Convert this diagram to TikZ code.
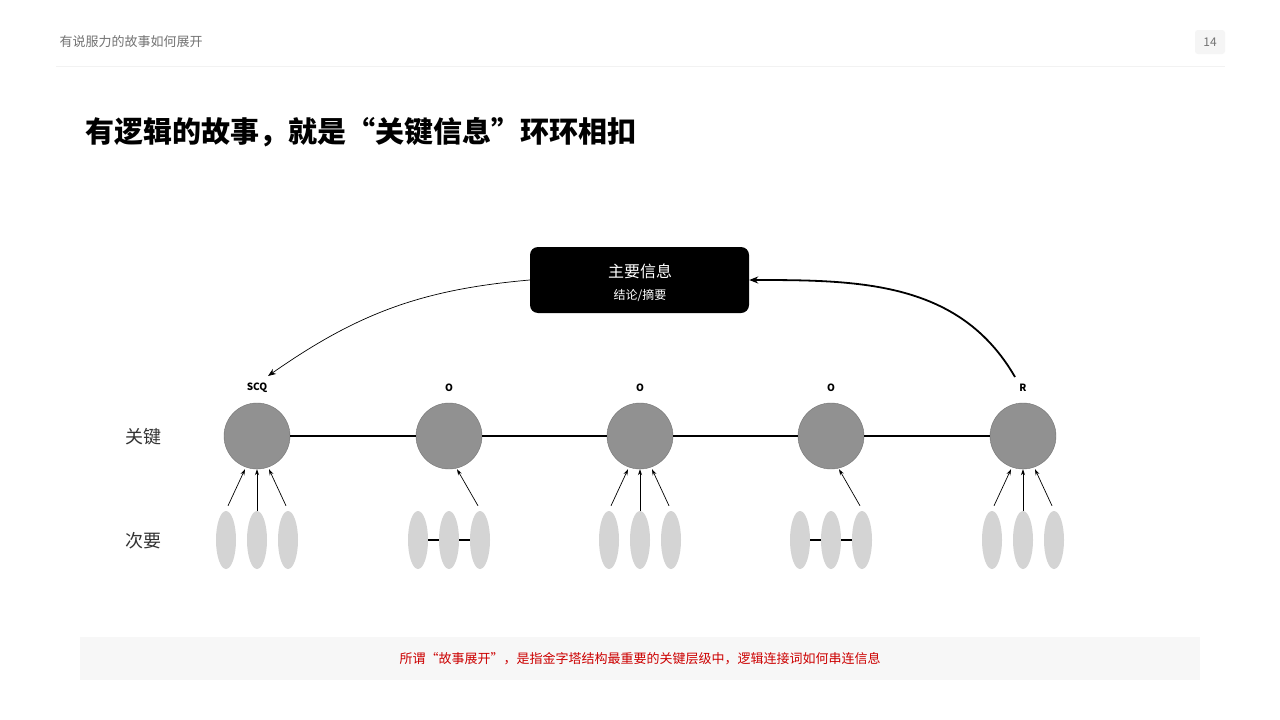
\documentclass[tikz,border=0pt]{standalone}
\usepackage{fontspec}
\setmainfont{Noto Sans CJK SC}
\newfontfamily\cjk{Noto Sans CJK SC}
\usetikzlibrary{arrows.meta,shapes.geometric}
\begin{document}
\begin{tikzpicture}[x=1pt,y=-1pt,
  key/.style={circle,draw=gray!90!black,fill=black!43,minimum size=66pt,inner sep=0pt},
  minor/.style={ellipse,fill=black!17,minimum width=20pt,minimum height=58pt,inner sep=0pt},
  lab/.style={font=\fontsize{10}{12}\selectfont\bfseries},
  arr/.style={-{Stealth[length=6pt,width=4pt]},line width=0.7pt}]
\useasboundingbox (0,0) rectangle (1280,720);
\fill[white] (0,0) rectangle (1280,720);
\node[anchor=west,text=black!55,font=\fontsize{13}{15}\selectfont] (hdr) at (56,42) {有说服力的故事如何展开};
\node[fill=black!4,rounded corners=3pt,minimum width=30pt,minimum height=24pt,text=black!55,font=\fontsize{12}{14}\selectfont] (pg) at (1210,42) {14};
\draw[black!5,line width=0.8pt] (56,66) -- (1225,66);
\node[anchor=west,font=\fontsize{29}{34}\selectfont\bfseries] (title) at (82,132) {有逻辑的故事，就是“关键信息”环环相扣};
\node[fill=black,rounded corners=8pt,minimum width=219pt,minimum height=66pt] (main) at (639.5,280) {};
\node[text=white,font=\fontsize{16}{18}\selectfont] (mt) at (640,271) {主要信息};
\node[text=white,font=\fontsize{12}{14}\selectfont] (ms) at (640,295) {结论/摘要};
\foreach \n/\x/\t in {a/257/SCQ,b/449/O,c/640/O,d/831/O,e/1023/R}{
  \node[key] (\n) at (\x,436) {};
  \node[lab] (\n l) at (\x,388) {\t};
  \node[minor] (\n1) at (\x-31,540) {};
  \node[minor] (\n2) at (\x,540) {};
  \node[minor] (\n3) at (\x+31,540) {};
}
\draw[line width=1.8pt] (a) -- (b) (b) -- (c) (c) -- (d) (d) -- (e);
\foreach \n in {a,c,e}{
  \draw[arr] (\n1.north) ++(2,-5) -- ([xshift=-12pt]\n.south);
  \draw[arr] (\n2.north) -- (\n.south);
  \draw[arr] (\n3.north) ++(-2,-5) -- ([xshift=12pt]\n.south);
}
\foreach \n in {b,d}{
  \draw[line width=1.2pt] (\n1) -- (\n2) (\n2) -- (\n3);
  \draw[arr] (\n3.north) ++(-2,-5) -- ([xshift=8pt]\n.south);
}
\draw[-{Stealth[length=8pt,width=6pt]},line width=0.7pt] (main.west) to[out=185,in=35] (268,376);
\draw[-{Stealth[length=9pt,width=7pt]},line width=1.8pt] (1015,377) to[out=120,in=0] (main.east);
\node[font=\fontsize{18}{20}\selectfont,text=black!80] (k) at (143,437) {关键};
\node[font=\fontsize{18}{20}\selectfont,text=black!80] (m) at (143,541) {次要};
\node[fill=black!3,minimum width=1120pt,minimum height=43pt] (foot) at (640,658.5) {};
\node[text=red!80!black,font=\fontsize{13}{15}\selectfont] (ft) at (640,659) {所谓“故事展开”，是指金字塔结构最重要的关键层级中，逻辑连接词如何串连信息};
\end{tikzpicture}
\end{document}
